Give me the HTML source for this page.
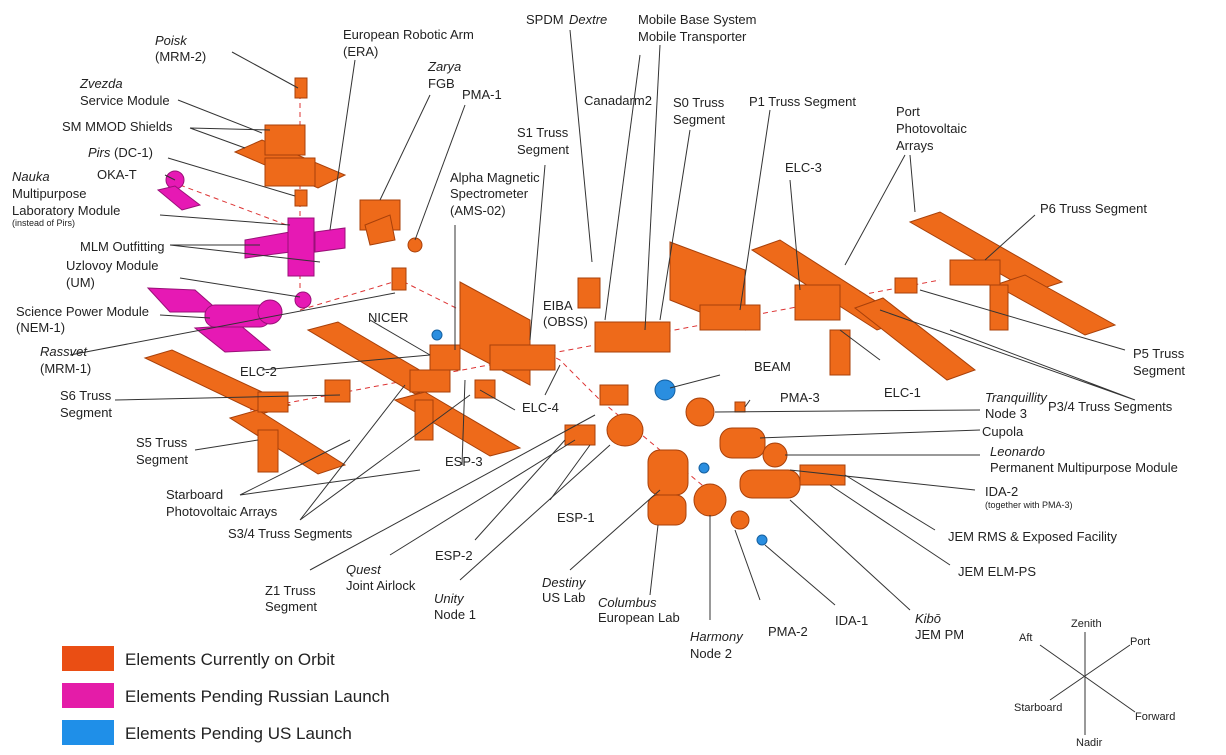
<!DOCTYPE html>
<html><head><meta charset="utf-8"><style>
html,body{margin:0;padding:0;background:#fff}
svg{display:block}
text{font-family:"Liberation Sans",sans-serif;font-size:13px;fill:#222}
.i{font-style:italic}
.s{font-size:9px}
.l{stroke:#333;stroke-width:1;fill:none}
.o{fill:#ee6a1a;stroke:#a8400a;stroke-width:1}
.p{fill:#e619b4;stroke:#9a1078;stroke-width:1}
.b{fill:#2a8ee0;stroke:#1560a0;stroke-width:1}
.lg{font-size:17px}
</style></head><body>
<svg width="1226" height="755" viewBox="0 0 1226 755">
<rect width="1226" height="755" fill="#fff"/>
<!-- truss dashed line -->
<g>
<path d="M250 410 L940 280" stroke="#d33" stroke-dasharray="5,4" fill="none"/>
<path d="M300 85 L300 310 L400 280 L560 360 L600 400 L720 500" stroke="#d33" stroke-dasharray="5,4" fill="none"/>
<path d="M180 185 L300 230" stroke="#d33" stroke-dasharray="5,4" fill="none"/>
</g>
<!-- solar arrays -->
<g>
<polygon class="o" points="145,358 172,350 290,405 262,414"/>
<polygon class="o" points="230,418 258,410 345,465 318,474"/>
<polygon class="o" points="308,330 338,322 445,385 415,394"/>
<polygon class="o" points="395,400 425,392 520,448 490,456"/>
<rect class="o" x="258" y="392" width="30" height="20"/>
<rect class="o" x="258" y="430" width="20" height="42"/>
<rect class="o" x="410" y="370" width="40" height="22"/>
<rect class="o" x="415" y="400" width="18" height="40"/>
</g>
<g>
<polygon class="o" points="460,282 530,320 530,385 460,348"/>
<polygon class="o" points="670,242 745,270 745,330 670,300"/>
<rect class="o" x="490" y="345" width="65" height="25"/>
<rect class="o" x="700" y="305" width="60" height="25"/>
<rect class="o" x="595" y="322" width="75" height="30"/>
</g>
<g>
<polygon class="o" points="752,250 780,240 905,320 877,330"/>
<polygon class="o" points="855,308 883,298 975,370 947,380"/>
<polygon class="o" points="910,222 940,212 1062,282 1032,292"/>
<polygon class="o" points="995,285 1025,275 1115,325 1085,335"/>
<rect class="o" x="795" y="285" width="45" height="35"/>
<rect class="o" x="830" y="330" width="20" height="45"/>
<rect class="o" x="950" y="260" width="50" height="25"/>
<rect class="o" x="990" y="285" width="18" height="45"/>
<rect class="o" x="895" y="278" width="22" height="15"/>
</g>
<g>
<rect class="o" x="295" y="78" width="12" height="20"/>
<polygon class="o" points="235,152 262,140 345,175 318,188"/>
<rect class="o" x="265" y="125" width="40" height="30"/>
<rect class="o" x="265" y="158" width="50" height="28"/>
<rect class="o" x="295" y="190" width="12" height="16"/>
<rect class="o" x="360" y="200" width="40" height="30"/>
<polygon class="o" points="365,225 390,215 395,240 370,245"/>
<circle class="o" cx="415" cy="245" r="7"/>
<rect class="o" x="392" y="268" width="14" height="22"/>
<circle class="p" cx="175" cy="180" r="9"/>
<polygon class="p" points="158,190 175,186 200,205 182,210"/>
<polygon class="p" points="245,240 290,232 290,252 245,258"/>
<rect class="p" x="288" y="218" width="26" height="58"/>
<polygon class="p" points="315,232 345,228 345,248 315,252"/>
<circle class="p" cx="303" cy="300" r="8"/>
<polygon class="p" points="148,288 195,290 220,312 170,312"/>
<polygon class="p" points="195,328 240,325 270,350 225,352"/>
<rect class="p" x="205" y="305" width="65" height="22" rx="10"/>
<circle class="p" cx="270" cy="312" r="12"/>
</g>
<g>
<rect class="o" x="578" y="278" width="22" height="30"/>
<rect class="o" x="600" y="385" width="28" height="20"/>
<rect class="o" x="565" y="425" width="30" height="20"/>
<ellipse class="o" cx="625" cy="430" rx="18" ry="16"/>
<ellipse class="o" cx="700" cy="412" rx="14" ry="14"/>
<rect class="o" x="648" y="450" width="40" height="45" rx="12"/>
<rect class="o" x="648" y="495" width="38" height="30" rx="10"/>
<ellipse class="o" cx="710" cy="500" rx="16" ry="16"/>
<rect class="o" x="720" y="428" width="45" height="30" rx="12"/>
<rect class="o" x="740" y="470" width="60" height="28" rx="12"/>
<circle class="o" cx="740" cy="520" r="9"/>
<circle class="o" cx="775" cy="455" r="12"/>
<rect class="o" x="800" y="465" width="45" height="20"/>
<circle class="b" cx="665" cy="390" r="10"/>
<circle class="b" cx="704" cy="468" r="5"/>
<circle class="b" cx="762" cy="540" r="5"/>
<circle class="b" cx="437" cy="335" r="5"/>
<rect class="o" x="430" y="345" width="30" height="25"/>
<rect class="o" x="325" y="380" width="25" height="22"/>
<rect class="o" x="475" y="380" width="20" height="18"/>
<rect class="o" x="735" y="402" width="10" height="10"/>
</g>
<!-- leader lines -->
<g class="l">
<path d="M232 52 L298 88"/><path d="M178 100 L262 133"/><path d="M190 128 L245 148 M190 128 L270 130"/>
<path d="M168 158 L295 196"/><path d="M165 175 L175 180"/><path d="M160 215 L290 225"/>
<path d="M170 245 L260 245 M170 245 L320 262"/><path d="M180 278 L300 297"/><path d="M160 315 L210 318"/>
<path d="M70 355 L395 293"/><path d="M355 60 L330 230"/><path d="M430 95 L380 200"/><path d="M465 105 L415 240"/>
<path d="M455 225 L455 350"/><path d="M545 165 L530 340"/><path d="M570 30 L592 262"/><path d="M640 55 L605 320"/>
<path d="M660 45 L645 330"/><path d="M690 130 L660 320"/><path d="M770 110 L740 310"/><path d="M790 180 L800 290"/>
<path d="M905 155 L845 265 M910 155 L915 212"/><path d="M1035 215 L985 260"/><path d="M1125 350 L920 290"/>
<path d="M1135 400 L880 310 M1135 400 L950 330"/><path d="M880 360 L840 330"/><path d="M370 320 L430 355"/>
<path d="M262 370 L430 355"/><path d="M115 400 L340 395"/><path d="M195 450 L258 440"/><path d="M240 495 L350 440 M240 495 L420 470"/>
<path d="M300 520 L405 385 M300 520 L470 395"/><path d="M515 410 L480 390"/><path d="M462 465 L465 380"/>
<path d="M545 395 L560 365"/><path d="M720 375 L670 388"/><path d="M750 400 L745 407"/>
<path d="M980 410 L715 412"/><path d="M980 430 L760 438"/><path d="M980 455 L785 455"/>
<path d="M975 490 L790 470"/><path d="M935 530 L845 475"/><path d="M950 565 L830 485"/><path d="M910 610 L790 500"/>
<path d="M835 605 L765 545"/><path d="M760 600 L735 530"/><path d="M710 620 L710 515"/><path d="M650 595 L658 525"/>
<path d="M570 570 L660 490"/><path d="M460 580 L610 445"/><path d="M390 555 L575 440"/><path d="M310 570 L595 415"/>
<path d="M550 500 L590 445"/><path d="M475 540 L565 440"/>
</g>
<!-- labels -->
<g>
<text x="155" y="45" class="i">Poisk</text><text x="155" y="61">(MRM-2)</text>
<text x="80" y="88" class="i">Zvezda</text><text x="80" y="105">Service Module</text>
<text x="62" y="131">SM MMOD Shields</text>
<text x="88" y="157" class="i">Pirs</text><text x="114" y="157">(DC-1)</text>
<text x="97" y="179">OKA-T</text>
<text x="12" y="181" class="i">Nauka</text><text x="12" y="198">Multipurpose</text>
<text x="12" y="215">Laboratory Module</text><text x="12" y="226" class="s">(instead of Pirs)</text>
<text x="80" y="251">MLM Outfitting</text>
<text x="66" y="270">Uzlovoy Module</text><text x="66" y="287">(UM)</text>
<text x="16" y="316">Science Power Module</text><text x="16" y="332">(NEM-1)</text>
<text x="40" y="356" class="i">Rassvet</text><text x="40" y="373">(MRM-1)</text>
<text x="60" y="400">S6 Truss</text><text x="60" y="417">Segment</text>
<text x="136" y="447">S5 Truss</text><text x="136" y="464">Segment</text>
<text x="166" y="499">Starboard</text><text x="166" y="516">Photovoltaic Arrays</text>
<text x="228" y="538">S3/4 Truss Segments</text>
<text x="265" y="595">Z1 Truss</text><text x="265" y="611">Segment</text>
<text x="346" y="574" class="i">Quest</text><text x="346" y="590">Joint Airlock</text>
<text x="434" y="603" class="i">Unity</text><text x="434" y="619">Node 1</text>
<text x="435" y="560">ESP-2</text><text x="557" y="522">ESP-1</text>
<text x="542" y="587" class="i">Destiny</text><text x="542" y="602">US Lab</text>
<text x="598" y="607" class="i">Columbus</text><text x="598" y="622">European Lab</text>
<text x="690" y="641" class="i">Harmony</text><text x="690" y="658">Node 2</text>
<text x="768" y="636">PMA-2</text><text x="835" y="625">IDA-1</text>
<text x="915" y="623" class="i">Kibō</text><text x="915" y="639">JEM PM</text>
<text x="958" y="576">JEM ELM-PS</text><text x="948" y="541">JEM RMS &amp; Exposed Facility</text>
<text x="985" y="496">IDA-2</text><text x="985" y="508" class="s">(together with PMA-3)</text>
<text x="990" y="456" class="i">Leonardo</text><text x="990" y="472">Permanent Multipurpose Module</text>
<text x="982" y="436">Cupola</text>
<text x="985" y="402" class="i">Tranquillity</text><text x="985" y="418">Node 3</text>
<text x="1048" y="411">P3/4 Truss Segments</text>
<text x="1133" y="358">P5 Truss</text><text x="1133" y="375">Segment</text>
<text x="884" y="397">ELC-1</text><text x="754" y="371">BEAM</text><text x="780" y="402">PMA-3</text>
<text x="1040" y="213">P6 Truss Segment</text>
<text x="896" y="116">Port</text><text x="896" y="133">Photovoltaic</text><text x="896" y="150">Arrays</text>
<text x="785" y="172">ELC-3</text>
<text x="749" y="106">P1 Truss Segment</text>
<text x="673" y="107">S0 Truss</text><text x="673" y="124">Segment</text>
<text x="584" y="105">Canadarm2</text>
<text x="638" y="24">Mobile Base System</text><text x="638" y="41">Mobile Transporter</text>
<text x="526" y="24">SPDM </text><text x="569" y="24" class="i">Dextre</text>
<text x="517" y="137">S1 Truss</text><text x="517" y="154">Segment</text>
<text x="450" y="182">Alpha Magnetic</text><text x="450" y="198">Spectrometer</text><text x="450" y="215">(AMS-02)</text>
<text x="462" y="99">PMA-1</text>
<text x="428" y="71" class="i">Zarya</text><text x="428" y="88">FGB</text>
<text x="343" y="39">European Robotic Arm</text><text x="343" y="56">(ERA)</text>
<text x="543" y="310">EIBA</text><text x="543" y="326">(OBSS)</text>
<text x="368" y="322">NICER</text><text x="240" y="376">ELC-2</text>
<text x="522" y="412">ELC-4</text><text x="445" y="466">ESP-3</text>
</g>
<!-- legend -->
<g>
<g><rect x="62" y="646" width="52" height="25" fill="#ea4e14"/><text x="125" y="665" class="lg">Elements Currently on Orbit</text></g>
<g><rect x="62" y="683" width="52" height="25" fill="#e41ca8"/><text x="125" y="702" class="lg">Elements Pending Russian Launch</text></g>
<g><rect x="62" y="720" width="52" height="25" fill="#1f8fe8"/><text x="125" y="739" class="lg">Elements Pending US Launch</text></g>
</g>
<!-- compass -->
<g>
<path d="M1085 632 L1085 735 M1040 645 L1135 712 M1130 645 L1050 700" stroke="#333" fill="none"/>
<text x="1071" y="627" style="font-size:11px">Zenith</text>
<text x="1019" y="641" style="font-size:11px">Aft</text>
<text x="1130" y="645" style="font-size:11px">Port</text>
<text x="1014" y="711" style="font-size:11px">Starboard</text>
<text x="1135" y="720" style="font-size:11px">Forward</text>
<text x="1076" y="746" style="font-size:11px">Nadir</text>
</g>
</svg>
</body></html>
